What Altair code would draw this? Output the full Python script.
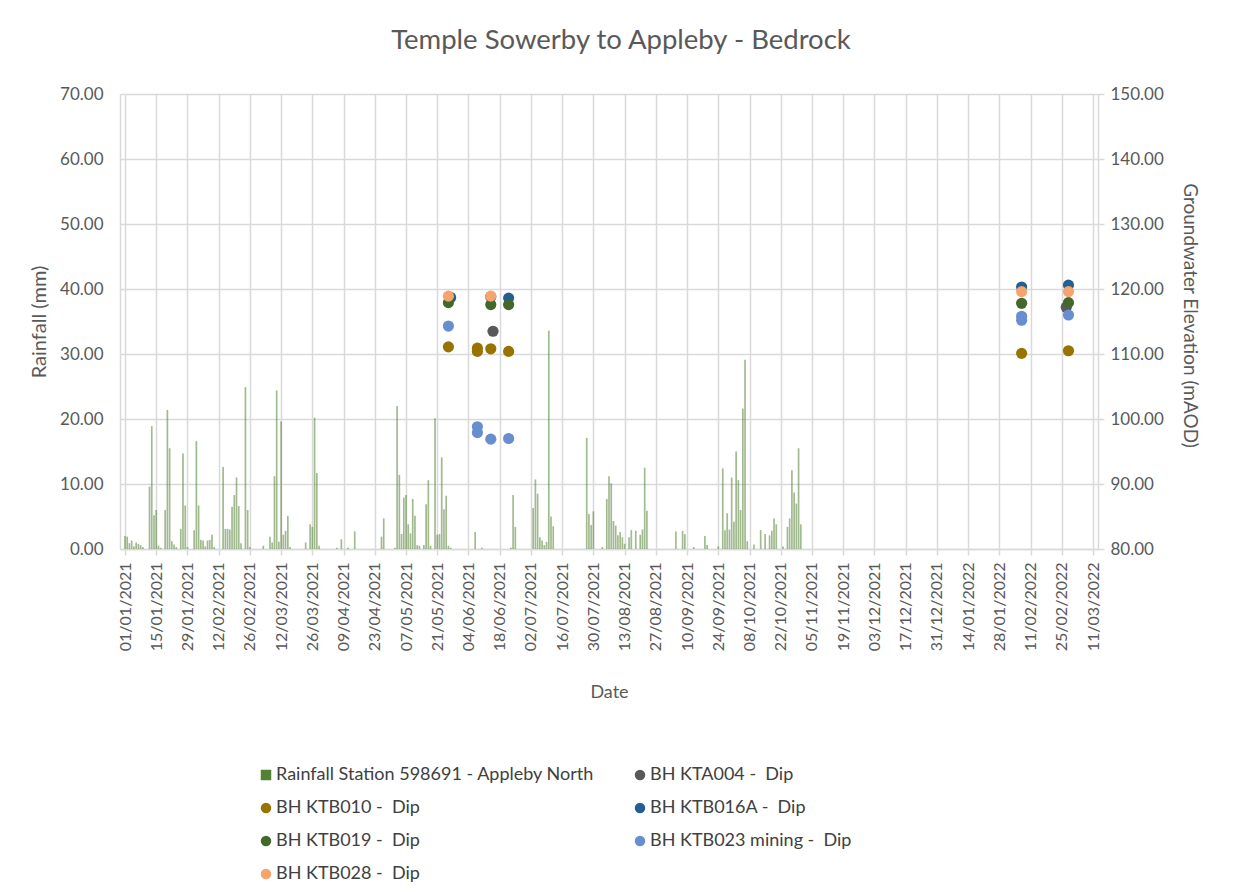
import altair as alt
import pandas as pd

# ---------------- data ----------------
# Daily rainfall (mm): day offset from 01/01/2021 and value
rain_day = [0, 1, 2, 3, 4, 5, 6, 7, 8,
            11, 12, 13, 14, 15, 16, 18, 19, 20, 21, 22, 23,
            25, 26, 27, 28, 31, 32, 33, 34, 35, 36, 37, 38, 39, 40,
            44, 45, 46, 47, 48, 49, 50, 51, 52, 54, 55, 56,
            62, 65, 66, 67, 68, 69, 70, 71, 72, 73, 74,
            81, 83, 84, 85, 86, 87, 95, 97, 100, 103, 115, 116,
            121, 122, 123, 124, 125, 126, 127, 128, 129, 130, 131, 132, 134,
            135, 136, 137, 139, 140, 141, 142, 143, 144, 145, 146,
            157, 160, 173, 174, 175,
            183, 184, 185, 186, 187, 188, 189, 190, 191, 192,
            207, 208, 209, 210, 214, 216, 217, 218, 219, 220, 221, 222, 223, 224,
            226, 227, 229, 231, 232, 233, 234,
            247, 250, 251, 255, 260, 261, 266, 268, 269, 270, 271, 272, 273, 274,
            275, 276, 277, 278, 279, 282, 285, 287, 289, 290, 291, 292,
            295, 297, 298, 299, 300, 301, 302, 303]
rain_mm = [2.0, 1.9, 0.9, 1.3, 0.4, 1.0, 0.8, 0.6, 0.3,
           9.6, 18.9, 5.2, 6.0, 0.5, 0.2, 6.0, 21.4, 15.5, 1.2, 0.7, 0.3,
           3.1, 14.7, 6.7, 0.3, 2.9, 16.6, 6.7, 1.4, 1.3, 0.4, 1.3, 1.4, 2.2, 0.3,
           12.6, 3.1, 3.1, 3.0, 6.5, 8.3, 11.0, 6.6, 0.9, 24.9, 6.0, 0.3,
           0.5, 1.9, 1.0, 11.2, 24.4, 1.1, 19.6, 2.2, 2.8, 5.1, 0.3,
           1.0, 3.8, 3.4, 20.2, 11.7, 0.5, 0.2, 1.5, 0.2, 2.7, 1.9, 4.7,
           0.2, 22.0, 11.4, 2.3, 7.9, 8.3, 3.8, 2.4, 7.7, 5.1, 0.6, 0.5, 0.6,
           6.9, 10.6, 0.5, 20.1, 2.2, 2.3, 14.1, 6.1, 8.2, 0.5, 0.2,
           2.6, 0.2, 0.2, 8.3, 3.4,
           6.3, 10.7, 8.5, 1.8, 1.3, 0.6, 1.1, 33.6, 5.0, 3.5,
           17.1, 5.4, 3.7, 5.8, 0.3, 7.7, 11.2, 10.1, 4.3, 3.6, 2.1, 2.6, 1.8, 0.8,
           1.8, 2.9, 2.8, 2.2, 3.0, 12.5, 5.9,
           2.7, 2.8, 2.3, 0.3, 2.0, 0.6, 0.4, 12.4, 2.9, 5.5, 3.0, 11.0, 4.2, 15.0,
           10.6, 6.0, 21.6, 29.1, 1.2, 0.7, 2.9, 2.3, 2.1, 2.8, 4.7, 3.8,
           0.4, 3.4, 4.7, 12.1, 8.7, 7.0, 15.5, 3.8]

NB = "\u00a0"  # keeps the double space of the original labels
series_names = ["Rainfall Station 598691 - Appleby North",
                "BH KTA004 - " + NB + "Dip", "BH KTB010 - " + NB + "Dip",
                "BH KTB016A - " + NB + "Dip", "BH KTB019 - " + NB + "Dip",
                "BH KTB023 mining - " + NB + "Dip", "BH KTB028 - " + NB + "Dip"]
series_colors = ["#548235", "#595959", "#997300", "#255e91",
                 "#43682b", "#698ed0", "#f4a46c"]
series_shapes = ["square", "circle", "circle", "circle",
                 "circle", "circle", "circle"]

# groundwater dips: series index (into series_names), date, level (mAOD)
gw_series_idx = [1, 1,
                 2, 2, 2, 2, 2, 2, 2,
                 3, 3, 3, 3, 3,
                 4, 4, 4, 4, 4,
                 5, 5, 5, 5, 5, 5, 5, 5,
                 6, 6, 6, 6]
gw_date = ["2021-06-15", "2022-02-27",
           "2021-05-26", "2021-06-08", "2021-06-08", "2021-06-14", "2021-06-22",
           "2022-02-07", "2022-02-28",
           "2021-05-27", "2021-06-14", "2021-06-22", "2022-02-07", "2022-02-28",
           "2021-05-26", "2021-06-14", "2021-06-22", "2022-02-07", "2022-02-28",
           "2021-05-26", "2021-06-08", "2021-06-08", "2021-06-14", "2021-06-22",
           "2022-02-07", "2022-02-07", "2022-02-28",
           "2021-05-26", "2021-06-14", "2022-02-07", "2022-02-28"]
gw_level = [113.5, 117.2,
            111.1, 110.9, 110.4, 110.8, 110.4, 110.1, 110.5,
            118.7, 118.8, 118.6, 120.3, 120.6,
            117.9, 117.6, 117.6, 117.8, 117.9,
            114.3, 98.8, 97.9, 96.9, 97.0, 115.8, 115.2, 116.0,
            118.9, 118.9, 119.6, 119.6]

tick_dates = ["2021-01-01", "2021-01-15", "2021-01-29", "2021-02-12", "2021-02-26",
              "2021-03-12", "2021-03-26", "2021-04-09", "2021-04-23", "2021-05-07",
              "2021-05-21", "2021-06-04", "2021-06-18", "2021-07-02", "2021-07-16",
              "2021-07-30", "2021-08-13", "2021-08-27", "2021-09-10", "2021-09-24",
              "2021-10-08", "2021-10-22", "2021-11-05", "2021-11-19", "2021-12-03",
              "2021-12-17", "2021-12-31", "2022-01-14", "2022-01-28", "2022-02-11",
              "2022-02-25", "2022-03-11"]
left_ticks = [0, 10, 20, 30, 40, 50, 60, 70]
right_ticks = [80, 90, 100, 110, 120, 130, 140, 150]

# ---------------- tables ----------------
start = pd.Timestamp("2021-01-01")
rain_df = pd.DataFrame({
    "date": [(start + pd.Timedelta(days=d)).strftime("%Y-%m-%d") for d in rain_day],
    "value": rain_mm,
    "series": series_names[0],
})
gw_df = pd.DataFrame({
    "date": gw_date,
    "value": gw_level,
    "series": [series_names[i] for i in gw_series_idx],
    "order": gw_series_idx,
})


def dt(s):
    y, m, d = (int(p) for p in s.split("-"))
    return alt.DateTime(year=y, month=m, date=d, utc=True)


FONT = "Lato"
GREY = "#595959"
GRID = "#d9d9d9"

x_enc = alt.X(
    "date:T",
    scale=alt.Scale(type="utc", domain=[dt(tick_dates[0]), dt(tick_dates[-1])]),
    axis=alt.Axis(
        values=[dt(t) for t in tick_dates], format="%d/%m/%Y", formatType="time",
        labelAngle=-90, labelAlign="right", labelBaseline="middle",
        labelFontSize=16, labelColor=GREY, labelFont=FONT, labelPadding=7,
        labelOverlap=False, labelFlush=False,
        grid=True, gridColor=GRID, gridWidth=1.5,
        domainColor=GRID, domainWidth=1.5, tickColor=GRID, tickSize=6, tickWidth=1.5,
        title="Date", titleFont=FONT, titleFontSize=18, titleColor=GREY,
        titleFontWeight="normal", titlePadding=33,
    ),
)


def legend():
    return alt.Legend(
        title=None, orient="none", legendX=137, legendY=672, columns=2,
        direction="horizontal",
        symbolSize=110, symbolStrokeWidth=0, labelFont=FONT, labelFontSize=18,
        labelColor="#404040", labelLimit=600, labelOffset=1,
        rowPadding=15, columnPadding=36, symbolOpacity=1,
    )


color_enc = alt.Color(
    "series:N",
    scale=alt.Scale(domain=series_names, range=series_colors),
    legend=legend(),
)
shape_enc = alt.Shape(
    "series:N",
    scale=alt.Scale(domain=series_names, range=series_shapes),
    legend=legend(),
)

bars = alt.Chart(rain_df).mark_bar(size=1.7, opacity=0.55).encode(
    x=x_enc,
    y=alt.Y(
        "value:Q",
        scale=alt.Scale(domain=[0, 70], nice=False),
        axis=alt.Axis(
            values=left_ticks, format=".2f", orient="left",
            labelFont=FONT, labelFontSize=17, labelColor=GREY, labelPadding=17,
            grid=True, gridColor=GRID, gridWidth=1.5,
            domainColor=GRID, domainWidth=1.5, ticks=False,
            title="Rainfall (mm)", titleFont=FONT, titleFontSize=20,
            titleColor=GREY, titleFontWeight="normal", titlePadding=10,
        ),
    ),
    color=color_enc,
)

points = alt.Chart(gw_df).mark_point(filled=True, size=125, opacity=1).encode(
    x=x_enc,
    y=alt.Y(
        "value:Q",
        scale=alt.Scale(domain=[80, 150], nice=False),
        axis=alt.Axis(
            values=right_ticks, format=".2f", orient="right",
            labelFont=FONT, labelFontSize=17, labelColor=GREY, labelPadding=6,
            grid=False, domainColor=GRID, domainWidth=1.5,
            tickColor=GRID, tickSize=6, tickWidth=1.5,
            title="Groundwater Elevation (mAOD)", titleFont=FONT, titleFontSize=19,
            titleColor=GREY, titleFontWeight="normal", titlePadding=16, titleY=221,
        ),
    ),
    color=color_enc,
    shape=shape_enc,
    order=alt.Order("order:Q"),
)

chart = (
    alt.layer(bars, points)
    .resolve_scale(y="independent")
    .properties(
        width=978,
        height=455,
        autosize=alt.AutoSizeParams(type="none"),
        padding={"left": 112, "top": 86, "right": 130, "bottom": 335},
        title=alt.TitleParams(
            "Temple Sowerby to Appleby - Bedrock", font=FONT, fontSize=27.5,
            fontWeight="normal", color=GREY, anchor="middle", offset=31, dx=12,
        ),
    )
    .configure_view(stroke=None)
    .configure(background="white")
)

chart.save("out.html", embed_options={"renderer": "svg", "actions": False})
